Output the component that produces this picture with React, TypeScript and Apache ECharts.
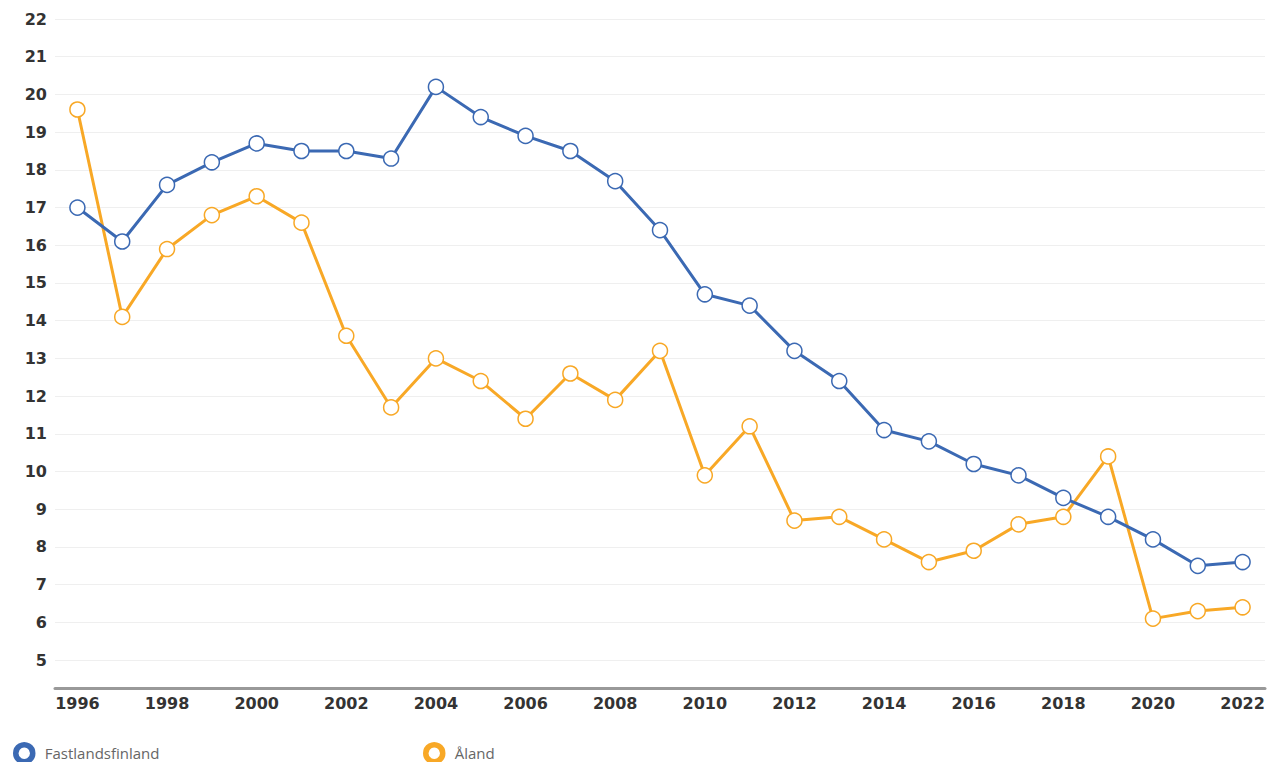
import React, { useEffect, useRef } from "react";
import * as echarts from "echarts";

const years = ["1996","1997","1998","1999","2000","2001","2002","2003","2004","2005","2006","2007","2008","2009","2010","2011","2012","2013","2014","2015","2016","2017","2018","2019","2020","2021","2022"];
const fastland = [17.0,16.1,17.6,18.2,18.7,18.5,18.5,18.3,20.2,19.4,18.9,18.5,17.7,16.4,14.7,14.4,13.2,12.4,11.1,10.8,10.2,9.9,9.3,8.8,8.2,7.5,7.6];
const aland = [19.6,14.1,15.9,16.8,17.3,16.6,13.6,11.7,13.0,12.4,11.4,12.6,11.9,13.2,9.9,11.2,8.7,8.8,8.2,7.6,7.9,8.6,8.8,10.4,6.1,6.3,6.4];
const yTicks = [5,6,7,8,9,10,11,12,13,14,15,16,17,18,19,20,21,22];

const BLUE = "#3b69b3";
const ORANGE = "#f8a826";
const LEGEND_FONT = "'Open Sans', 'Noto Sans', sans-serif";
const AXIS_FONT = "'DejaVu Sans', sans-serif";

export default function App() {
  const ref = useRef<HTMLDivElement>(null);
  useEffect(() => {
    if (!ref.current) return;
    const chart = echarts.init(ref.current, null, { renderer: "svg" });
    const legendBase = {
      orient: "horizontal",
      top: 742,
      itemWidth: 17,
      itemHeight: 17,
      itemGap: 8,
      padding: 0,
      selectedMode: false,
      textStyle: { color: "#666", fontSize: 15, fontFamily: LEGEND_FONT, padding: [0, 0, 0, 7] },
    };
    chart.setOption({
      animation: false,
      grid: { left: 55, right: 4, top: 19, bottom: 74 },
      legend: [
        {
          ...legendBase,
          left: 13,
          data: [{ name: "Fastlandsfinland", icon: "circle", itemStyle: { color: "#fff", borderColor: BLUE, borderWidth: 5.5 } }],
        },
        {
          ...legendBase,
          left: 423,
          data: [{ name: "Åland", icon: "circle", itemStyle: { color: "#fff", borderColor: ORANGE, borderWidth: 5.5 } }],
        },
      ],
      xAxis: {
        type: "category",
        data: years,
        boundaryGap: true,
        axisLine: { lineStyle: { color: "#999", width: 3 } },
        axisTick: { show: false },
        axisLabel: {
          interval: 1,
          color: "#333",
          fontSize: 16,
          fontWeight: "bold",
          fontFamily: AXIS_FONT,
          margin: 7,
        },
        splitLine: { show: false },
      },
      yAxis: {
        type: "value",
        min: 4.26,
        max: 22,
        axisLine: { show: false },
        axisTick: { show: false, customValues: yTicks },
        axisLabel: {
          customValues: yTicks,
          color: "#333",
          fontSize: 16,
          fontWeight: "bold",
          fontFamily: AXIS_FONT,
          margin: 8,
        },
        splitLine: { show: true, lineStyle: { color: "#efefef", width: 1 } },
      },
      series: [
        {
          name: "Fastlandsfinland",
          type: "line",
          data: fastland,
          symbol: "circle",
          symbolSize: 15,
          lineStyle: { color: BLUE, width: 3 },
          itemStyle: { color: "#fff", borderColor: BLUE, borderWidth: 1.5 },
          z: 3,
        },
        {
          name: "Åland",
          type: "line",
          data: aland,
          symbol: "circle",
          symbolSize: 15,
          lineStyle: { color: ORANGE, width: 3 },
          itemStyle: { color: "#fff", borderColor: ORANGE, borderWidth: 1.5 },
          z: 2,
        },
      ],
    });
    return () => chart.dispose();
  }, []);
  return <div ref={ref} style={{ width: 1269, height: 762, position: "absolute", left: 0, top: 0 }} />;
}
